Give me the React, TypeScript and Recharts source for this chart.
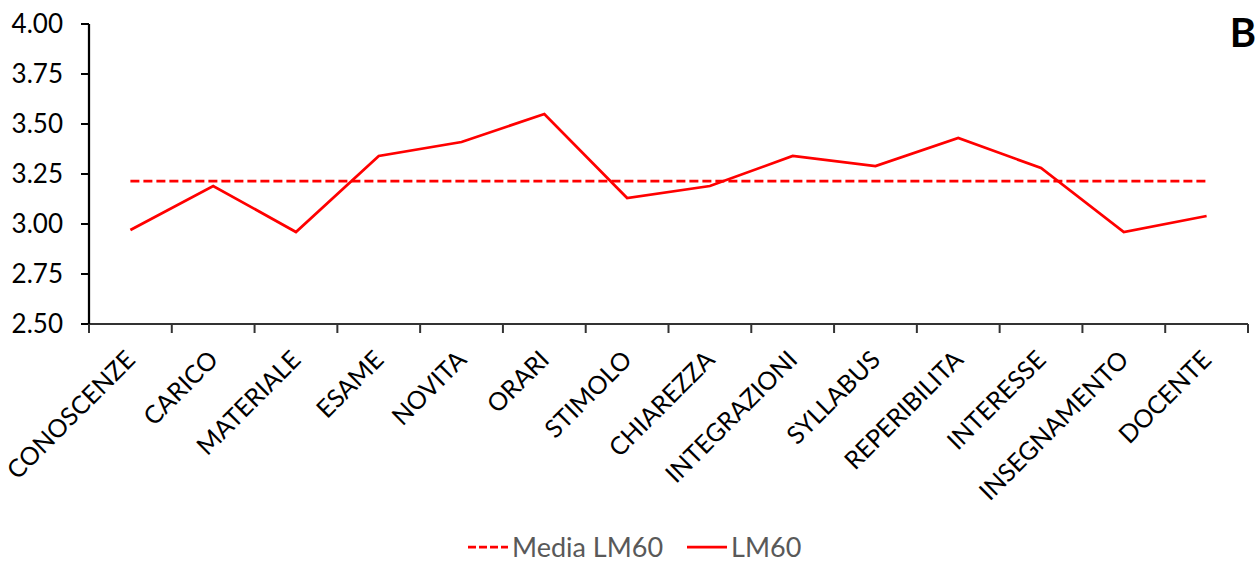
import { LineChart, Line, XAxis, YAxis } from 'recharts';

const categories = [
  'CONOSCENZE',
  'CARICO',
  'MATERIALE',
  'ESAME',
  'NOVITA',
  'ORARI',
  'STIMOLO',
  'CHIAREZZA',
  'INTEGRAZIONI',
  'SYLLABUS',
  'REPERIBILITA',
  'INTERESSE',
  'INSEGNAMENTO',
  'DOCENTE',
];

const lm60 = [2.97, 3.19, 2.96, 3.34, 3.41, 3.55, 3.13, 3.19, 3.34, 3.29, 3.43, 3.28, 2.96, 3.04];

const mediaLm60 = [
  3.215, 3.215, 3.215, 3.215, 3.215, 3.215, 3.215, 3.215, 3.215, 3.215, 3.215, 3.215, 3.215, 3.215,
];

const yTicks = [2.5, 2.75, 3.0, 3.25, 3.5, 3.75, 4.0];

const FONT = 'Lato, "Open Sans", sans-serif';
const RED = '#FF0000';

const data = categories.map((name, i) => ({
  idx: i,
  name,
  lm60: lm60[i],
  media: mediaLm60[i],
}));

// category centres get labels, half steps get the little boundary ticks
const xTicks: number[] = [];
for (let i = 0; i <= categories.length; i++) {
  xTicks.push(i - 0.5);
  if (i < categories.length) xTicks.push(i);
}

function CategoryTick(props: any) {
  const { x, y, payload } = props;
  const v = payload.value as number;
  if (!Number.isInteger(v)) {
    return <line x1={x} x2={x} y1={y} y2={y + 9} stroke="#333" strokeWidth={2} />;
  }
  return (
    <g transform={`translate(${x},${y + 31})`}>
      <text
        x={0}
        y={0}
        dy="0.36em"
        transform="rotate(-45)"
        textAnchor="end"
        fill="#000"
        fontSize={25}
        fontFamily={FONT}
      >
        {categories[v]}
      </text>
    </g>
  );
}

export default function App() {
  return (
    <div style={{ position: 'absolute', left: 0, top: 0, width: 1260, height: 562, background: '#fff' }}>
      <LineChart
        width={1260}
        height={562}
        data={data}
        margin={{ top: 24, right: 12, left: 0, bottom: 58 }}
      >
        <XAxis
          dataKey="idx"
          type="number"
          domain={[-0.5, categories.length - 0.5]}
          ticks={xTicks}
          interval={0}
          height={180}
          tickSize={0}
          tickMargin={0}
          tickLine={false}
          axisLine={{ stroke: '#333', strokeWidth: 2 }}
          tick={<CategoryTick />}
        />
        <YAxis
          type="number"
          domain={[2.5, 4]}
          ticks={yTicks}
          width={89}
          tickSize={8}
          tickMargin={18}
          tickFormatter={(v: number) => v.toFixed(2)}
          axisLine={{ stroke: '#000', strokeWidth: 2.25 }}
          tickLine={{ stroke: '#000', strokeWidth: 2 }}
          tick={{ fill: '#000', fontSize: 26, fontFamily: FONT }}
        />
        <Line
          dataKey="media"
          stroke={RED}
          strokeWidth={2.75}
          strokeDasharray="9 4"
          dot={false}
          activeDot={false}
          isAnimationActive={false}
        />
        <Line
          dataKey="lm60"
          stroke={RED}
          strokeWidth={2.75}
          dot={false}
          activeDot={false}
          isAnimationActive={false}
        />
      </LineChart>

      <div
        style={{
          position: 'absolute',
          right: 4,
          top: 8,
          fontFamily: FONT,
          fontWeight: 700,
          fontSize: 40,
          lineHeight: '48px',
          color: '#000',
        }}
      >
        B
      </div>

      {/* Legend */}
      <div
        style={{
          position: 'absolute',
          left: 468,
          top: 530,
          display: 'flex',
          alignItems: 'center',
          fontFamily: FONT,
          fontSize: 27,
          lineHeight: '34px',
          color: '#595959',
        }}
      >
        <svg width={40} height={6} style={{ marginRight: 4 }}>
          <line x1={0} x2={40} y1={3} y2={3} stroke={RED} strokeWidth={2.75} strokeDasharray="8 3" />
        </svg>
        <span>Media LM60</span>
        <svg width={40} height={6} style={{ marginLeft: 24, marginRight: 4 }}>
          <line x1={0} x2={40} y1={3} y2={3} stroke={RED} strokeWidth={2.75} />
        </svg>
        <span>LM60</span>
      </div>
    </div>
  );
}
